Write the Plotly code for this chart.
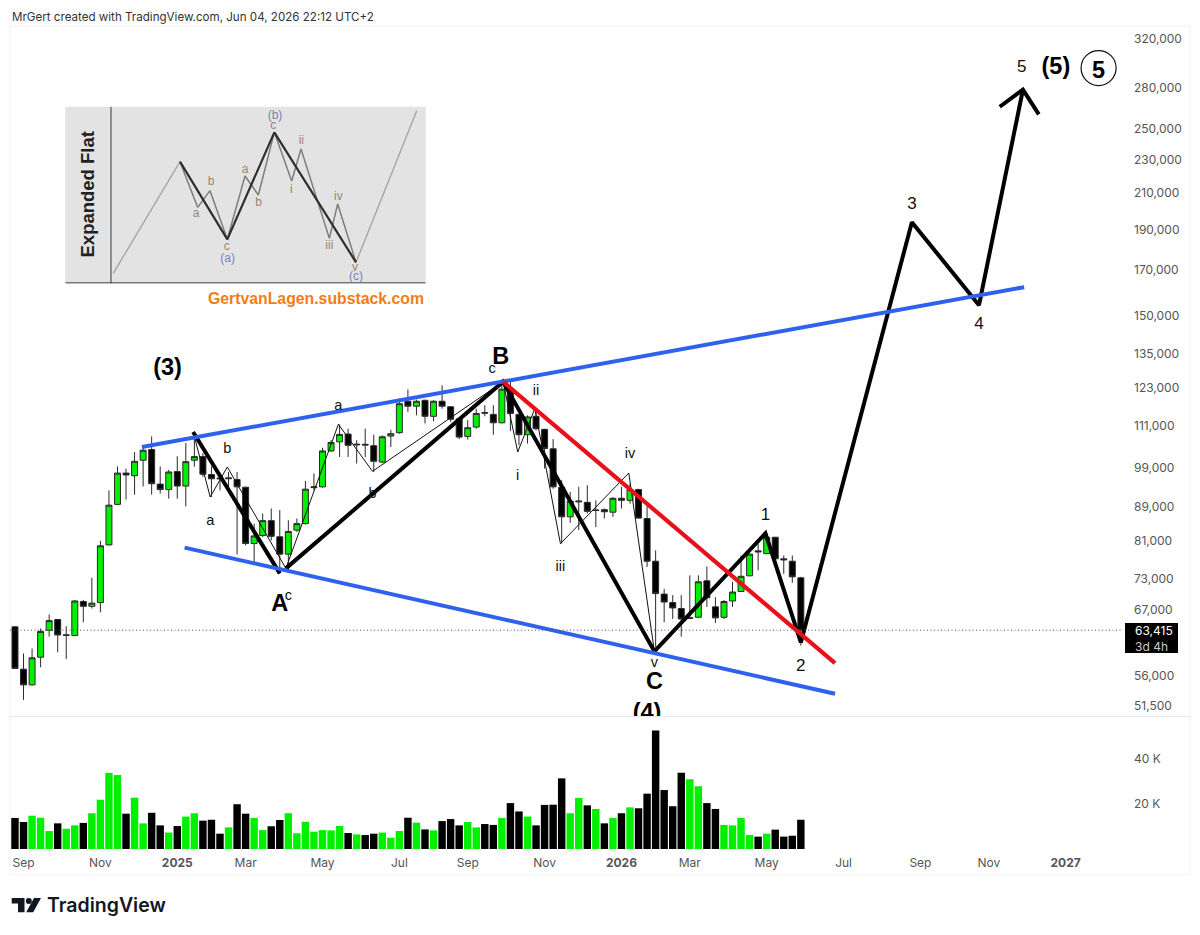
import numpy as np
import pandas as pd
import plotly.graph_objects as go

W, Ht = 1200, 935

# ---------- weekly candles (prices in hundreds of USD) ----------
PRICE_UNIT = 100
first_week = "2024-08-26"
opens = [640,570,546,589,634,653,625,625,686,677,684,801,895,975,968,1010,1040,946,932,979,941,1010,1020,971,962,960,958,938,804,822,856,819,781,834,849,937,939,1036,1062,1085,1053,1055,1051,1005,1079,1089,1187,1171,1190,1139,1187,1169,1131,1078,1106,1151,1145,1119,1223,1145,1083,1139,1099,1042,938,865,901,900,880,882,876,910,905,932,861,766,700,684,673,655,657,726,676,657,687,705,736,788,782,818,771,766,732]
highs = [641,595,603,637,662,653,641,689,689,732,810,930,993,987,1033,1047,1078,993,984,1021,1059,1091,1030,993,974,978,978,939,849,873,885,881,857,861,954,974,1045,1067,1114,1101,1067,1101,1083,1081,1098,1196,1226,1192,1192,1190,1240,1171,1135,1127,1163,1174,1174,1260,1252,1145,1142,1163,1101,1070,956,926,939,943,905,885,913,939,947,934,893,789,710,698,698,737,737,755,694,689,724,778,782,804,826,818,778,778,734]
lows = [571,524,545,573,623,597,586,624,648,673,666,800,893,907,919,940,919,922,909,909,890,992,965,913,930,939,780,800,764,818,811,740,747,830,847,930,937,1033,1019,1019,1001,1019,978,1002,1047,1086,1153,1142,1117,1124,1163,1122,1070,1069,1101,1139,1083,1117,1094,1052,1057,1096,987,934,804,851,834,873,841,861,865,885,897,861,754,606,648,654,623,654,656,676,647,654,676,704,735,747,781,769,740,722,608]
closes = [571,546,588,632,651,626,626,687,677,683,799,893,975,970,1007,1038,947,932,978,941,1006,1020,972,960,960,962,939,804,821,856,820,781,831,849,933,939,1036,1060,1084,1052,1055,1053,1007,1077,1086,1179,1171,1187,1139,1187,1171,1130,1076,1104,1148,1149,1119,1227,1148,1083,1137,1101,1043,939,865,903,903,878,881,877,910,905,932,862,766,701,685,674,654,656,724,693,656,686,704,735,781,786,818,771,769,734,634.15]
# volume in hundreds of BTC
volumes = [138,120,148,139,80,114,90,105,116,159,219,338,329,157,228,114,161,105,73,102,144,159,126,130,68,96,199,157,138,84,101,129,159,70,121,77,84,83,102,71,65,62,68,73,50,80,139,117,87,83,124,133,105,120,96,111,107,138,204,167,144,105,196,197,314,159,227,194,178,114,138,159,185,181,246,527,262,190,339,310,279,204,178,107,105,138,62,55,68,86,55,59,130]
last_price = 63415

# ---------- axes ----------
price_ticks = [320000,280000,250000,230000,210000,190000,170000,150000,135000,123000,111000,99000,89000,81000,73000,67000,56000,51500]
volume_ticks = [20000, 40000]
volume_tick_text = ["20 K", "40 K"]
date_ticks = ["2024-09-02","2024-11-04","2025-01-06","2025-03-03","2025-05-05","2025-07-07","2025-09-01","2025-11-03","2026-01-05","2026-03-02","2026-05-04","2026-07-06","2026-09-07","2026-11-02","2027-01-04"]
date_tick_text = ["Sep","Nov","<b>2025</b>","Mar","May","Jul","Sep","Nov","<b>2026</b>","Mar","May","Jul","Sep","Nov","<b>2027</b>"]

# ---------- drawn trend lines (date, price) ----------
upper_x = ["2024-12-08","2026-12-01"];  upper_y = [104720,162210]
lower_x = ["2025-01-12","2026-06-29"];  lower_y = [79500,53290]
red_x   = ["2025-09-30","2026-06-29"];  red_y   = [125210,57950]
fall_a_x = ["2025-01-19","2025-03-31"]; fall_a_y = [109120,74090]
main_x = ["2025-04-05","2025-09-30","2026-02-01","2026-05-03","2026-06-01","2026-08-31","2026-10-25","2026-11-30"]
main_y = [75110,125210,59840,82670,61330,193820,154400,278650]
arrow_x = ["2026-11-11","2026-11-30","2026-12-13"]; arrow_y = [265830,278650,260350]
wave_a_x = ["2025-01-19","2025-02-02","2025-02-16","2025-04-05"]; wave_a_y = [109120,91320,99140,75110]
wave_b_x = ["2025-04-05","2025-05-18","2025-06-15","2025-09-30"]; wave_b_y = [75110,111440,97980,125210]
wave_c_x = ["2025-09-30","2025-10-12","2025-10-26","2025-11-16","2026-01-11","2026-02-01"]
wave_c_y = [125210,103300,116340,80370,97520,59840]

# ---------- chart labels ----------
small_text = ["b","a","c","a","b","c","ii","i","iii","iv","v"]
small_x = ["2025-02-16","2025-02-02","2025-04-07","2025-05-18","2025-06-15","2025-09-21","2025-10-27","2025-10-12","2025-11-16","2026-01-12","2026-02-01"]
small_y = [104000,85400,69570,117000,92000,129500,122000,96600,75300,102600,57900]
number_text = ["1","2","3","4","5"]
number_x = ["2026-05-03","2026-06-01","2026-08-31","2026-10-25","2026-11-29"]
number_y = [86700,57300,203200,146300,295800]
bold_text = ["(3)","A","B","C","(4)","(5)","5"]
bold_x = ["2024-12-29","2025-03-31","2025-09-28","2026-02-01","2026-01-26","2026-12-27","2027-01-31"]
bold_y = [129650,67920,133600,54840,50380,295700,292500]
circle_x = ["2027-01-31"]; circle_y = [295560]

# ---------- inset sketch (own unit square) ----------
inset_lead_x = [160,360];  inset_lead_y = [520,185]
inset_tail_x = [888,1070]; inset_tail_y = [487,32]
inset_main_x = [360,502,643,888]; inset_main_y = [185,418,97,487]
inset_sub_x = [360,413,450,502,555,595,643,695,723,808,833,888]
inset_sub_y = [185,322,272,418,228,285,97,243,147,415,312,487]
inset_axis_x = [153,153]; inset_axis_y = [20,550]
inset_base_x = [16,1097]; inset_base_y = [550,550]
inset_brown_text = ["a","b","c","a","b","c","ii","i","iii","iv","v"]
inset_brown_x = [408,453,500,555,596,640,724,694,808,835,885]
inset_brown_y = [343,247,440,210,310,78,122,270,438,290,503]
inset_blue_text = ["(a)","(b)","(c)"]
inset_blue_x = [503,645,888]; inset_blue_y = [476,48,532]

SANS = "Liberation Sans"
UI = "Inter"
GREEN = "#00f000"
unit = PRICE_UNIT
dates = pd.date_range(first_week, periods=len(opens), freq="7D")
o, h, l, c = [np.array(a, dtype=float) * unit for a in (opens, highs, lows, closes)]
vol = np.array(volumes) * 100.0
vol_colors = [GREEN if cc >= oo else "#000000" for oo, cc in zip(o, c)]

def fx(px): return px / W
def fy(px): return 1 - px / Ht

fig = go.Figure()
fig.add_trace(go.Candlestick(x=dates, open=o, high=h, low=l, close=c, yaxis="y", xaxis="x",
    increasing=dict(fillcolor=GREEN, line=dict(color="#2a2a2a", width=1)),
    decreasing=dict(fillcolor="#000000", line=dict(color="#2a2a2a", width=1)),
    whiskerwidth=0, hoverinfo="skip", showlegend=False))
fig.add_trace(go.Bar(x=dates, y=vol, yaxis="y2", xaxis="x", marker=dict(color=vol_colors, line=dict(width=0)), showlegend=False, hoverinfo="skip"))

def line(x, y, color, width, xa="x", ya="y"):
    fig.add_trace(go.Scatter(x=x, y=y, mode="lines", line=dict(color=color, width=width), xaxis=xa, yaxis=ya, showlegend=False, hoverinfo="skip"))

def text(x, y, t, size, color="#111111", xa="x", ya="y", family=SANS):
    fig.add_trace(go.Scatter(x=x, y=y, text=t, mode="text", textposition="middle center", xaxis=xa, yaxis=ya,
        textfont=dict(size=size, color=color, family=family), showlegend=False, hoverinfo="skip", cliponaxis=True))

for x, y in [(wave_a_x, wave_a_y), (wave_b_x, wave_b_y), (wave_c_x, wave_c_y)]:
    line(x, y, "#111111", 1)
for x, y in [(fall_a_x, fall_a_y), (main_x, main_y), (arrow_x, arrow_y)]:
    line(x, y, "#000000", 4)
line(upper_x, upper_y, "#2e62ec", 4)
line(lower_x, lower_y, "#2e62ec", 4)
line(red_x, red_y, "#e8101a", 4.2)

text(small_x, small_y, small_text, 14.5)
text(number_x, number_y, number_text, 17)
text(bold_x, bold_y, ["<b>%s</b>" % s for s in bold_text], 23.5, color="#000000")
fig.add_trace(go.Scatter(x=circle_x, y=circle_y, mode="markers", xaxis="x", yaxis="y", showlegend=False, hoverinfo="skip",
    marker=dict(symbol="circle-open", size=35, color="#111111", line=dict(width=1.2, color="#111111"))))

# inset
line(inset_lead_x, inset_lead_y, "#a9a9a9", 1.5, "x2", "y3")
line(inset_tail_x, inset_tail_y, "#a9a9a9", 1.5, "x2", "y3")
line(inset_sub_x, inset_sub_y, "#7d7d7d", 1.5, "x2", "y3")
line(inset_main_x, inset_main_y, "#2f2f2f", 2.2, "x2", "y3")
line(inset_axis_x, inset_axis_y, "#66757f", 1.5, "x2", "y3")
line(inset_base_x, inset_base_y, "#111111", 1.6, "x2", "y3")
text(inset_brown_x, inset_brown_y, inset_brown_text, 12, "#9c856c", "x2", "y3")
text(inset_blue_x, inset_blue_y, inset_blue_text, 12, "#7b80b8", "x2", "y3")

shapes = [
    dict(type="rect", xref="paper", yref="paper", x0=fx(10), x1=fx(1190), y0=fy(26), y1=fy(875), line=dict(color="#f1f1f1", width=1), layer="below"),
    dict(type="line", xref="paper", yref="paper", x0=fx(10), x1=fx(1190), y0=fy(716.5), y1=fy(716.5), line=dict(color="#e9e9e9", width=1)),
    dict(type="rect", xref="paper", yref="paper", x0=fx(65.3), x1=fx(425.7), y0=fy(106.7), y1=fy(283.3), fillcolor="#e3e3e3", line=dict(width=0), layer="below"),
    dict(type="line", xref="x domain", yref="y", x0=0, x1=1, y0=last_price, y1=last_price, line=dict(color="#555555", width=1, dash="1px,2.5px")),
    dict(type="rect", xref="paper", yref="paper", x0=fx(1125), x1=fx(1178), y0=fy(623), y1=fy(653), fillcolor="#000000", line=dict(width=0)),
]
def path(pts):
    return "M " + " L ".join("%.5f %.5f" % (fx(a), fy(b)) for a, b in pts) + " Z"
LOGO = "#131722"
for pts in [[(11.7,898),(24.5,898),(24.5,912.3),(18,912.3),(18,903.5),(11.7,903.5)],
            [(34,898),(41,898),(33.2,912.3),(26.2,912.3)]]:
    shapes.append(dict(type="path", xref="paper", yref="paper", path=path(pts), fillcolor=LOGO, line=dict(width=0)))
shapes.append(dict(type="circle", xref="paper", yref="paper", x0=fx(25.8), x1=fx(31.8), y0=fy(898), y1=fy(904), fillcolor=LOGO, line=dict(width=0)))

def note(x, y, t, size, color="#111111", anchor="left", family=UI, weight=None, **kw):
    f = dict(size=size, color=color, family=family)
    if weight: f["weight"] = weight
    return dict(xref="paper", yref="paper", x=fx(x), y=fy(y), text=t, showarrow=False, xanchor=anchor, yanchor="middle", font=f, **kw)

annotations = [
    note(10, 17, "MrGert created with TradingView.com, Jun 04, 2026 22:12 UTC+2", 11.6, "#333333"),
    note(426, 298, "<b>GertvanLagen.substack.com</b>", 15.8, "#f47c12", anchor="right", family=SANS),
    note(87.5, 195, "<b>Expanded Flat</b>", 18.5, "#222222", anchor="center", family=SANS, textangle=-90),
    note(1133, 638, "63,415<br><span style='color:#cccccc'>3d 4h</span>", 12, "#ffffff", align="left"),
    note(45, 905, "TradingView", 19.5, LOGO, weight=600),
]

fig.update_layout(
    width=W, height=Ht, autosize=False, margin=dict(l=0, r=0, t=0, b=0),
    paper_bgcolor="#ffffff", plot_bgcolor="rgba(0,0,0,0)", showlegend=False,
    bargap=0.13, boxgap=0.3, boxgroupgap=0, shapes=shapes, annotations=annotations, dragmode=False,
    xaxis=dict(type="date", domain=[fx(10), fx(1123)], range=["2024-08-21 22:00", "2027-02-20"], anchor="y2",
        tickmode="array", tickvals=date_ticks, ticktext=date_tick_text, showgrid=False, zeroline=False, showline=False,
        ticks="", tickfont=dict(family=UI, size=12, color="#555555"), rangeslider=dict(visible=False), ticklabelstandoff=5),
    yaxis=dict(type="log", domain=[fy(716.5), fy(26)], range=[4.69958, 5.52062], side="right", anchor="x",
        tickmode="array", tickvals=price_ticks, ticktext=[f"{v:,}" for v in price_ticks], showgrid=False, zeroline=False, showline=False,
        ticks="", tickfont=dict(family=UI, size=12, color="#555555"), ticklabelstandoff=10),
    yaxis2=dict(domain=[fy(849), fy(717)], range=[0, 58667], side="right", anchor="x",
        tickmode="array", tickvals=volume_ticks, ticktext=volume_tick_text, showgrid=False, zeroline=False, showline=False,
        ticks="", tickfont=dict(family=UI, size=12, color="#555555"), ticklabelstandoff=10),
    xaxis2=dict(domain=[fx(65.3), fx(425.7)], range=[16, 1097], anchor="y3", visible=False),
    yaxis3=dict(domain=[fy(283.3), fy(106.7)], range=[550, 20], anchor="x2", visible=False),
)
fig.write_html("out.html", config=dict(displayModeBar=False), post_script="document.body.style.margin='0';document.body.style.overflow='hidden';")
